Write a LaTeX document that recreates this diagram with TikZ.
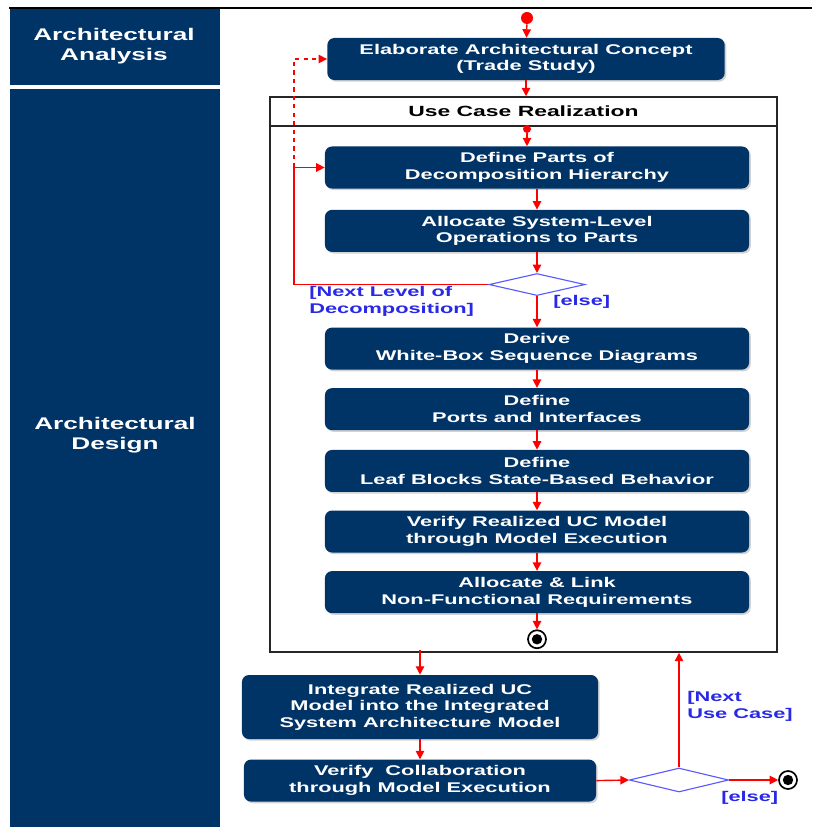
\documentclass[tikz,border=0pt]{standalone}
\usepackage{fontspec}
\setmainfont[FakeStretch=1.55]{Liberation Sans}
\usepackage{xcolor}
\usetikzlibrary{shapes.geometric, positioning, arrows.meta, shadows}

\definecolor{navy}{RGB}{0,51,102}
\definecolor{guardblue}{RGB}{40,40,230}
\definecolor{decblue}{RGB}{90,90,255}

\begin{document}
\begin{tikzpicture} [
       x=0.025cm, y=-0.025cm,
       activity/.style={rectangle, rounded corners=5pt, fill=navy, text=white,
               font=\bfseries\fontsize{10}{11.8}\selectfont, align=center,
               minimum height=1.05cm, inner sep=2pt,
               drop shadow={shadow xshift=1.2pt, shadow yshift=-1.2pt, opacity=0.35}},
       wide/.style={minimum width=10.6cm},
       decision/.style={diamond, draw=decblue, fill=white, thick, aspect=4.4,
               minimum width=2.4cm, minimum height=0.55cm, inner sep=0pt},
       initial/.style={circle, fill=red, minimum size=0.3cm, inner sep=0pt},
       final/.style={circle, draw=black, line width=1.2pt, fill=white,
               minimum size=0.45cm, inner sep=0pt,
               path picture={\fill[black] (path picture bounding box.center) circle (0.13cm);}},
       guard/.style={text=guardblue, font=\bfseries\fontsize{10}{12}\selectfont,
               align=left, inner sep=0pt},
       lanetitle/.style={text=white, font=\bfseries\fontsize{12}{14}\selectfont, align=center},
       frame/.style={rectangle, draw=black!85, line width=1pt},
       flow/.style={draw=red, line width=1pt, -{Triangle[length=6pt,width=6pt]}},
       ]
       \useasboundingbox (0,0) rectangle (812,827);
       % swim lanes
       \draw[black, line width=0.8pt] (9,8) -- (812,8);
       \fill[navy] (10,9) rectangle (220,85);
       \fill[navy] (10,89) rectangle (220,827);
       \node (analysis) [lanetitle] at (114,46) {Architectural\\Analysis};
       \node (design) [lanetitle] at (115,435) {Architectural\\Design};

       % architectural analysis
       \node (start) [initial] at (527,18) {};
       \node (concept) [activity, minimum width=9.93cm] at (526,59)
               {Elaborate Architectural Concept\\(Trade Study)};

       % use case realization
       \node (ucr) [frame, minimum width=12.675cm, minimum height=13.875cm] at (523.5,374.5) {};
       \node (ucrtitle) [frame, minimum width=12.675cm, minimum height=0.725cm,
               below=0pt of ucr.north, font=\bfseries\fontsize{10.5}{12}\selectfont]
               {Use Case Realization};
       \node (ucrstart) [initial, minimum size=0.2cm] at (527,129) {};
       \node (parts) [activity, wide] at (537,167.5) {Define Parts of\\Decomposition Hierarchy};
       \node (alloc) [activity, wide, below=0.52cm of parts] {Allocate System-Level\\Operations to Parts};
       \node (nextlevel) [decision, below=0.52cm of alloc] {};
       \node (derive) [activity, wide, below=0.78cm of nextlevel] {Derive\\White-Box Sequence Diagrams};
       \node (ports) [activity, wide, below=0.45cm of derive] {Define\\Ports and Interfaces};
       \node (leaf) [activity, wide, below=0.48cm of ports] {Define\\Leaf Blocks State-Based Behavior};
       \node (verifyuc) [activity, wide, below=0.45cm of leaf] {Verify Realized UC Model\\through Model Execution};
       \node (nfr) [activity, wide, below=0.45cm of verifyuc] {Allocate \& Link\\Non-Functional Requirements};
       \node (ucrend) [final, below=0.4cm of nfr] {};
       \coordinate (loopback) at (294,0 |- parts.west);

       % integration
       \node (integrate) [activity, minimum width=8.9cm, minimum height=1.6cm] at (420,707)
               {Integrate Realized UC\\Model into the Integrated\\System Architecture Model};
       \node (verifycol) [activity, minimum width=8.8cm, below=0.5cm of integrate]
               {Verify\ \ Collaboration\\through Model Execution};
       \node (nextuc) [decision, minimum width=2.48cm, minimum height=0.6cm] at (679,780) {};
       \node (archend) [final] at (788,780) {};

       % guards
       \node (lvlguard) [guard, anchor=north west] at (309,286) {[Next Level of\\Decomposition]};
       \node (elseguard) [guard, anchor=west] at (553,302) {[else]};
       \node (ucguard) [guard, anchor=north west] at (687,691) {[Next\\Use Case]};
       \node (doneguard) [guard, anchor=west] at (721,798) {[else]};

       \begin{scope}[every path/.style=flow]
       \path (start) -- (concept);
       \path (concept.south) -- (concept.south |- ucr.north);
       \path (ucrstart) -- (ucrstart |- parts.north);
       \path (parts) -- (alloc);
       \path (alloc) -- (nextlevel);
       \path (nextlevel.west) -| (loopback) -- (parts.west);
       \path[dashed] (loopback) |- (concept.west);
       \path (nextlevel) -- (derive);
       \path (derive) -- (ports);
       \path (ports) -- (leaf);
       \path (leaf) -- (verifyuc);
       \path (verifyuc) -- (nfr);
       \path (nfr) -- (ucrend);
       \path (integrate.north |- ucr.south) ++(0,-3) -- (integrate.north);
       \path (integrate) -- (verifycol);
       \path (verifycol.east) -- (nextuc.west);
       \path (nextuc.east) -- (archend.west);
       \path (nextuc.north) -- (nextuc.north |- ucr.south);
       \end{scope}
\end{tikzpicture}
\end{document}
